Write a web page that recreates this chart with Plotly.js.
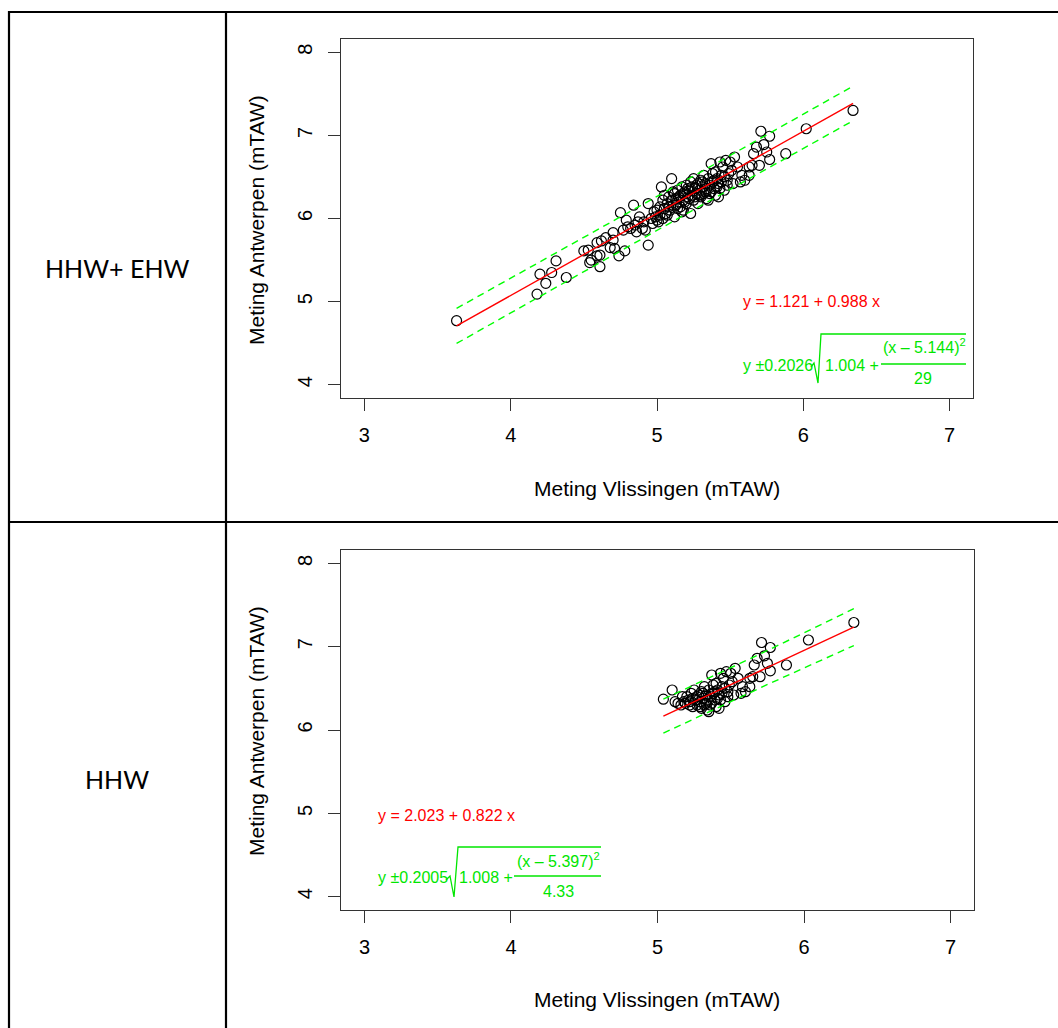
<!DOCTYPE html>
<html>
<head>
<meta charset="utf-8">
<script src="https://cdn.plot.ly/plotly-3.0.1.min.js"></script>
<style>html,body{margin:0;padding:0;background:#fff;}#chart{width:1058px;height:1028px;}</style>
</head>
<body>
<div id="chart"></div>
<script>
// ---- Data: HHW + EHW (top panel) ----
const xAll = [3.63,4.18,4.20,4.24,4.28,4.31,4.38,4.50,4.53,4.54,4.55,4.59,4.59,4.61,4.61,4.62,4.65,4.68,4.70,4.70,
  4.71,4.74,4.75,4.77,4.78,4.79,4.80,4.82,4.84,4.85,4.87,4.88,4.90,4.92,4.94,4.94,4.96,4.98,5.00,5.00,
  5.02,5.02,5.03,5.04,5.05,5.06,5.07,5.08,5.09,5.10,5.10,5.11,5.12,5.12,5.13,5.14,5.14,5.15,5.16,5.17,
  5.17,5.18,5.19,5.20,5.20,5.21,5.22,5.23,5.23,5.24,5.25,5.25,5.26,5.27,5.28,5.28,5.29,5.30,5.30,5.31,
  5.32,5.32,5.33,5.34,5.34,5.35,5.35,5.36,5.37,5.37,5.38,5.38,5.39,5.40,5.40,5.41,5.42,5.42,5.43,5.43,
  5.44,5.45,5.46,5.47,5.48,5.49,5.50,5.51,5.52,5.53,5.55,5.57,5.58,5.60,5.63,5.63,5.65,5.66,5.68,5.70,
  5.71,5.73,5.75,5.77,5.77,5.88,6.02,6.34,
  5.05,5.08,5.11,5.13,5.15,5.16,5.18,5.19,5.21,5.22,5.24,5.26,5.27,5.29,5.31,5.33,5.36,5.39,5.41,5.44,
  5.46,5.48,4.97,4.99,4.91,4.86,5.01,5.04,5.07,5.18];
const yAll = [4.77,5.09,5.33,5.22,5.35,5.49,5.29,5.61,5.62,5.47,5.50,5.71,5.55,5.42,5.56,5.73,5.77,5.65,5.83,5.74,
  5.64,5.55,6.07,5.86,5.61,5.98,5.90,5.88,6.16,5.92,5.96,6.02,5.88,5.86,5.68,6.18,6.00,6.08,5.98,6.10,
  6.14,6.04,6.38,6.22,6.12,6.06,6.18,6.26,6.10,6.48,6.22,6.16,6.30,6.02,6.24,6.12,6.34,6.20,6.28,6.08,
  6.38,6.22,6.32,6.18,6.40,6.26,6.34,6.06,6.44,6.28,6.22,6.48,6.36,6.30,6.42,6.18,6.34,6.46,6.26,6.38,
  6.30,6.52,6.42,6.24,6.36,6.22,6.48,6.40,6.66,6.32,6.54,6.44,6.36,6.56,6.28,6.48,6.26,6.42,6.68,6.36,
  6.52,6.62,6.34,6.70,6.46,6.54,6.68,6.58,6.42,6.74,6.62,6.44,6.52,6.46,6.52,6.62,6.64,6.78,6.86,6.64,
  7.05,6.89,6.80,6.99,6.71,6.78,7.08,7.30,
  6.28,6.14,6.32,6.16,6.26,6.14,6.30,6.20,6.36,6.24,6.38,6.26,6.40,6.28,6.44,6.32,6.30,6.46,6.38,6.44,
  6.50,6.40,5.94,6.02,5.96,5.84,5.96,6.00,6.04,6.10];

// ---- Data: HHW (bottom panel) ----
const xHHW = [5.04,5.10,5.12,5.14,5.16,5.17,5.18,5.19,5.20,5.21,5.22,5.22,5.23,5.24,5.24,5.25,5.26,5.27,5.27,5.28,
  5.29,5.29,5.30,5.30,5.31,5.31,5.32,5.32,5.33,5.33,5.34,5.34,5.35,5.35,5.36,5.36,5.37,5.37,5.38,5.38,
  5.39,5.39,5.40,5.40,5.41,5.41,5.42,5.42,5.43,5.43,5.44,5.44,5.45,5.46,5.46,5.47,5.48,5.48,5.49,5.50,
  5.51,5.52,5.53,5.55,5.57,5.58,5.60,5.63,5.63,5.65,5.66,5.68,5.70,5.71,5.73,5.75,5.77,5.77,5.88,6.03,6.34];
const yHHW = [6.37,6.48,6.34,6.32,6.30,6.40,6.34,6.32,6.40,6.36,6.34,6.30,6.44,6.38,6.28,6.48,6.36,6.40,6.30,6.42,
  6.34,6.28,6.46,6.26,6.38,6.44,6.30,6.52,6.42,6.32,6.24,6.36,6.22,6.48,6.40,6.30,6.66,6.32,6.54,6.44,
  6.36,6.46,6.56,6.28,6.48,6.38,6.26,6.42,6.68,6.36,6.52,6.44,6.62,6.34,6.50,6.70,6.46,6.40,6.54,6.68,
  6.58,6.42,6.74,6.62,6.44,6.52,6.46,6.52,6.62,6.64,6.78,6.86,6.64,7.05,6.89,6.80,6.99,6.71,6.78,7.08,7.29];

// Fitted models as printed on the chart
const fitAll = {a: 1.121, b: 0.988, s: 0.2026, c: 1.004, m: 5.144, d: 29};
const fitHHW = {a: 2.023, b: 0.822, s: 0.2005, c: 1.008, m: 5.397, d: 4.33};

const rowLabels = ["HHW+ EHW", "HHW"];
const xTitle = "Meting Vlissingen (mTAW)";
const yTitle = "Meting Antwerpen (mTAW)";
const tickVals = [3, 4, 5, 6, 7];
const yTickVals = [4, 5, 6, 7, 8];

// ---- helpers ----
const W = 1058, H = 1028;
const px = x => x / W;
const py = y => 1 - y / H;

function fitLines(xs, f, xa, ya) {
  const lo = Math.min(...xs), hi = Math.max(...xs);
  const n = 30, X = [];
  for (let i = 0; i <= n; i++) X.push(lo + (hi - lo) * i / n);
  const mid = X.map(x => f.a + f.b * x);
  const half = X.map(x => f.s * Math.sqrt(f.c + (x - f.m) * (x - f.m) / f.d));
  const up = mid.map((v, i) => v + half[i]);
  const dn = mid.map((v, i) => v - half[i]);
  const dash = {color: '#00ff00', width: 1.4, dash: '7px,5px'};
  return [
    {x: X, y: mid, mode: 'lines', line: {color: '#ff0000', width: 1.4}, xaxis: xa, yaxis: ya, hoverinfo: 'skip'},
    {x: X, y: up, mode: 'lines', line: dash, xaxis: xa, yaxis: ya, hoverinfo: 'skip'},
    {x: X, y: dn, mode: 'lines', line: dash, xaxis: xa, yaxis: ya, hoverinfo: 'skip'}
  ];
}

const marker = {symbol: 'circle-open', size: 10, color: '#000', line: {width: 1.2}};
const traces = [
  {x: xAll, y: yAll, mode: 'markers', marker: marker, xaxis: 'x', yaxis: 'y', hoverinfo: 'x+y'},
  ...fitLines(xAll, fitAll, 'x', 'y'),
  {x: xHHW, y: yHHW, mode: 'markers', marker: marker, xaxis: 'x2', yaxis: 'y2', hoverinfo: 'x+y'},
  ...fitLines(xHHW, fitHHW, 'x2', 'y2')
];

const FONT = 'Liberation Sans, Arial, sans-serif';
function xax(dom, anchor) {
  return {domain: dom, anchor: anchor, range: [2.84, 7.16], tickvals: tickVals, ticktext: tickVals.map(String),
    ticks: 'outside', ticklen: 12, tickwidth: 1, tickcolor: '#333', showline: true, mirror: true,
    linecolor: '#333', linewidth: 1, showgrid: false, zeroline: false, ticklabelstandoff: 7,
    tickfont: {family: FONT, size: 20, color: '#000'}, fixedrange: true};
}
function yax(dom, anchor) {
  return {domain: dom, anchor: anchor, range: [3.84, 8.16], tickvals: yTickVals, ticktext: yTickVals.map(String),
    ticks: 'outside', ticklen: 12, tickwidth: 1, tickcolor: '#333', showline: true, mirror: true,
    linecolor: '#333', linewidth: 1, showgrid: false, zeroline: false, tickangle: -90, ticklabelstandoff: 8,
    tickfont: {family: FONT, size: 20, color: '#000'}, fixedrange: true};
}

const G = '#00e600', R = '#ff0000';
function txt(text, x, y, opts) {
  return Object.assign({text: text, x: px(x), y: py(y), xref: 'paper', yref: 'paper', showarrow: false,
    xanchor: 'left', yanchor: 'middle', font: {family: FONT, size: 16, color: '#000'}}, opts || {});
}
const fmt = f => ({
  red: 'y = ' + f.a.toFixed(3) + ' + ' + f.b.toFixed(3) + ' x',
  left: 'y \u00b1' + f.s.toFixed(4),
  c: f.c.toFixed(3) + ' +',
  num: '(x \u2013 ' + f.m.toFixed(3) + ')<sup>2</sup>',
  den: String(f.d)
});
const tA = fmt(fitAll), tH = fmt(fitHHW);

const AX = {family: FONT, size: 21, color: '#000'};
const annotations = [
  // row labels
  txt(rowLabels[0], 117, 268, {xanchor: 'center', font: {family: 'Lato, Carlito, sans-serif', size: 25, color: '#000'}}),
  txt(rowLabels[1], 117, 779, {xanchor: 'center', font: {family: 'Lato, Carlito, sans-serif', size: 25, color: '#000'}}),
  // axis titles
  txt(xTitle, 657, 488, {xanchor: 'center', font: AX}),
  txt(xTitle, 657, 999, {xanchor: 'center', font: AX}),
  txt(yTitle, 256, 220, {xanchor: 'center', textangle: -90, font: AX}),
  txt(yTitle, 256, 731, {xanchor: 'center', textangle: -90, font: AX}),
  // top equations
  txt(tA.red, 741, 301, {font: {family: FONT, size: 16, color: R}}),
  txt(tA.left, 741, 365, {font: {family: FONT, size: 16, color: G}}),
  txt(tA.c, 823, 365, {font: {family: FONT, size: 16, color: G}}),
  txt(tA.num, 924, 346, {xanchor: 'center', font: {family: FONT, size: 16, color: G}}),
  txt(tA.den, 923, 378, {xanchor: 'center', font: {family: FONT, size: 16, color: G}}),
  // bottom equations
  txt(tH.red, 376, 815, {font: {family: FONT, size: 16, color: R}}),
  txt(tH.left, 376, 877, {font: {family: FONT, size: 16, color: G}}),
  txt(tH.c, 457, 877, {font: {family: FONT, size: 16, color: G}}),
  txt(tH.num, 558, 860, {xanchor: 'center', font: {family: FONT, size: 16, color: G}}),
  txt(tH.den, 558, 891, {xanchor: 'center', font: {family: FONT, size: 16, color: G}})
];

function pathPx(pts) {
  return pts.map((p, i) => (i ? 'L' : 'M') + px(p[0]).toFixed(5) + ',' + py(p[1]).toFixed(5)).join(' ');
}
const black = {color: '#000', width: 2.2};
const shapes = [
  // table grid
  {type: 'line', xref: 'paper', yref: 'paper', x0: px(8), x1: px(1058), y0: py(12), y1: py(12), line: black},
  {type: 'line', xref: 'paper', yref: 'paper', x0: px(8), x1: px(1058), y0: py(522), y1: py(522), line: black},
  {type: 'line', xref: 'paper', yref: 'paper', x0: px(9), x1: px(9), y0: py(11), y1: py(1028), line: black},
  {type: 'line', xref: 'paper', yref: 'paper', x0: px(226), x1: px(226), y0: py(11), y1: py(1028), line: black},
  // radicals and fraction bars
  {type: 'path', xref: 'paper', yref: 'paper', path: pathPx([[811, 367], [814, 363], [818, 383], [821, 334], [966, 334]]), line: {color: G, width: 1.3}},
  {type: 'line', xref: 'paper', yref: 'paper', x0: px(881), x1: px(966), y0: py(364), y1: py(364), line: {color: G, width: 1.3}},
  {type: 'path', xref: 'paper', yref: 'paper', path: pathPx([[446, 880], [450, 876], [454, 897], [458, 847], [601, 847]]), line: {color: G, width: 1.3}},
  {type: 'line', xref: 'paper', yref: 'paper', x0: px(514), x1: px(601), y0: py(876), y1: py(876), line: {color: G, width: 1.3}}
];

const layout = {
  width: W, height: H, autosize: false,
  margin: {l: 0, r: 0, t: 0, b: 0, pad: 0},
  paper_bgcolor: '#fff', plot_bgcolor: '#fff',
  showlegend: false,
  xaxis: xax([341 / W, 973 / W], 'y'),
  yaxis: yax([1 - 398 / H, 1 - 39 / H], 'x'),
  xaxis2: xax([341 / W, 974 / W], 'y2'),
  yaxis2: yax([1 - 910 / H, 1 - 550 / H], 'x2'),
  annotations: annotations,
  shapes: shapes
};

Plotly.newPlot('chart', traces, layout, {displayModeBar: false, staticPlot: true});
</script>
</body>
</html>
